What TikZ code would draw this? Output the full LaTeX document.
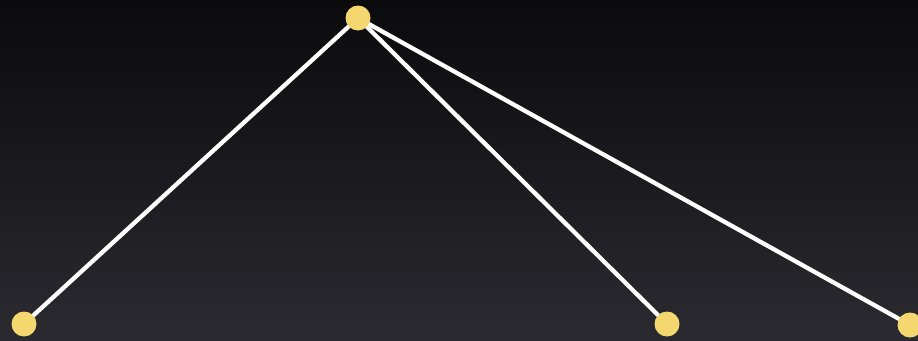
\documentclass[tikz,border=0pt]{standalone}
\usetikzlibrary{backgrounds}
\pgfdeclarelayer{edges}
\pgfsetlayers{background,edges,main}
\definecolor{bgtop}{RGB}{11,11,13}
\definecolor{bgbot}{RGB}{42,42,48}
\definecolor{dotyellow}{RGB}{245,215,112}
\tikzset{
  vertex/.style={circle, fill=dotyellow, inner sep=0pt, minimum size=25pt},
  edge/.style={draw=white, line width=4.3pt}
}
\begin{document}
\begin{tikzpicture}[x=1pt,y=-1pt]
\begin{pgfonlayer}{background}
\fill[top color=bgtop, bottom color=bgbot] (0,0) rectangle (918,340);
\end{pgfonlayer}
\useasboundingbox (0,0) rectangle (918,340);
\node[vertex] (top) at (358,18) {};
\node[vertex] (left) at (24,324) {};
\node[vertex] (mid) at (667,324) {};
\node[vertex] (right) at (910,325) {};
\begin{pgfonlayer}{edges}
\draw[edge] (top.center) -- (left.center);
\draw[edge] (top.center) -- (mid.center);
\draw[edge] (top.center) -- (right.center);
\end{pgfonlayer}
\end{tikzpicture}
\end{document}
